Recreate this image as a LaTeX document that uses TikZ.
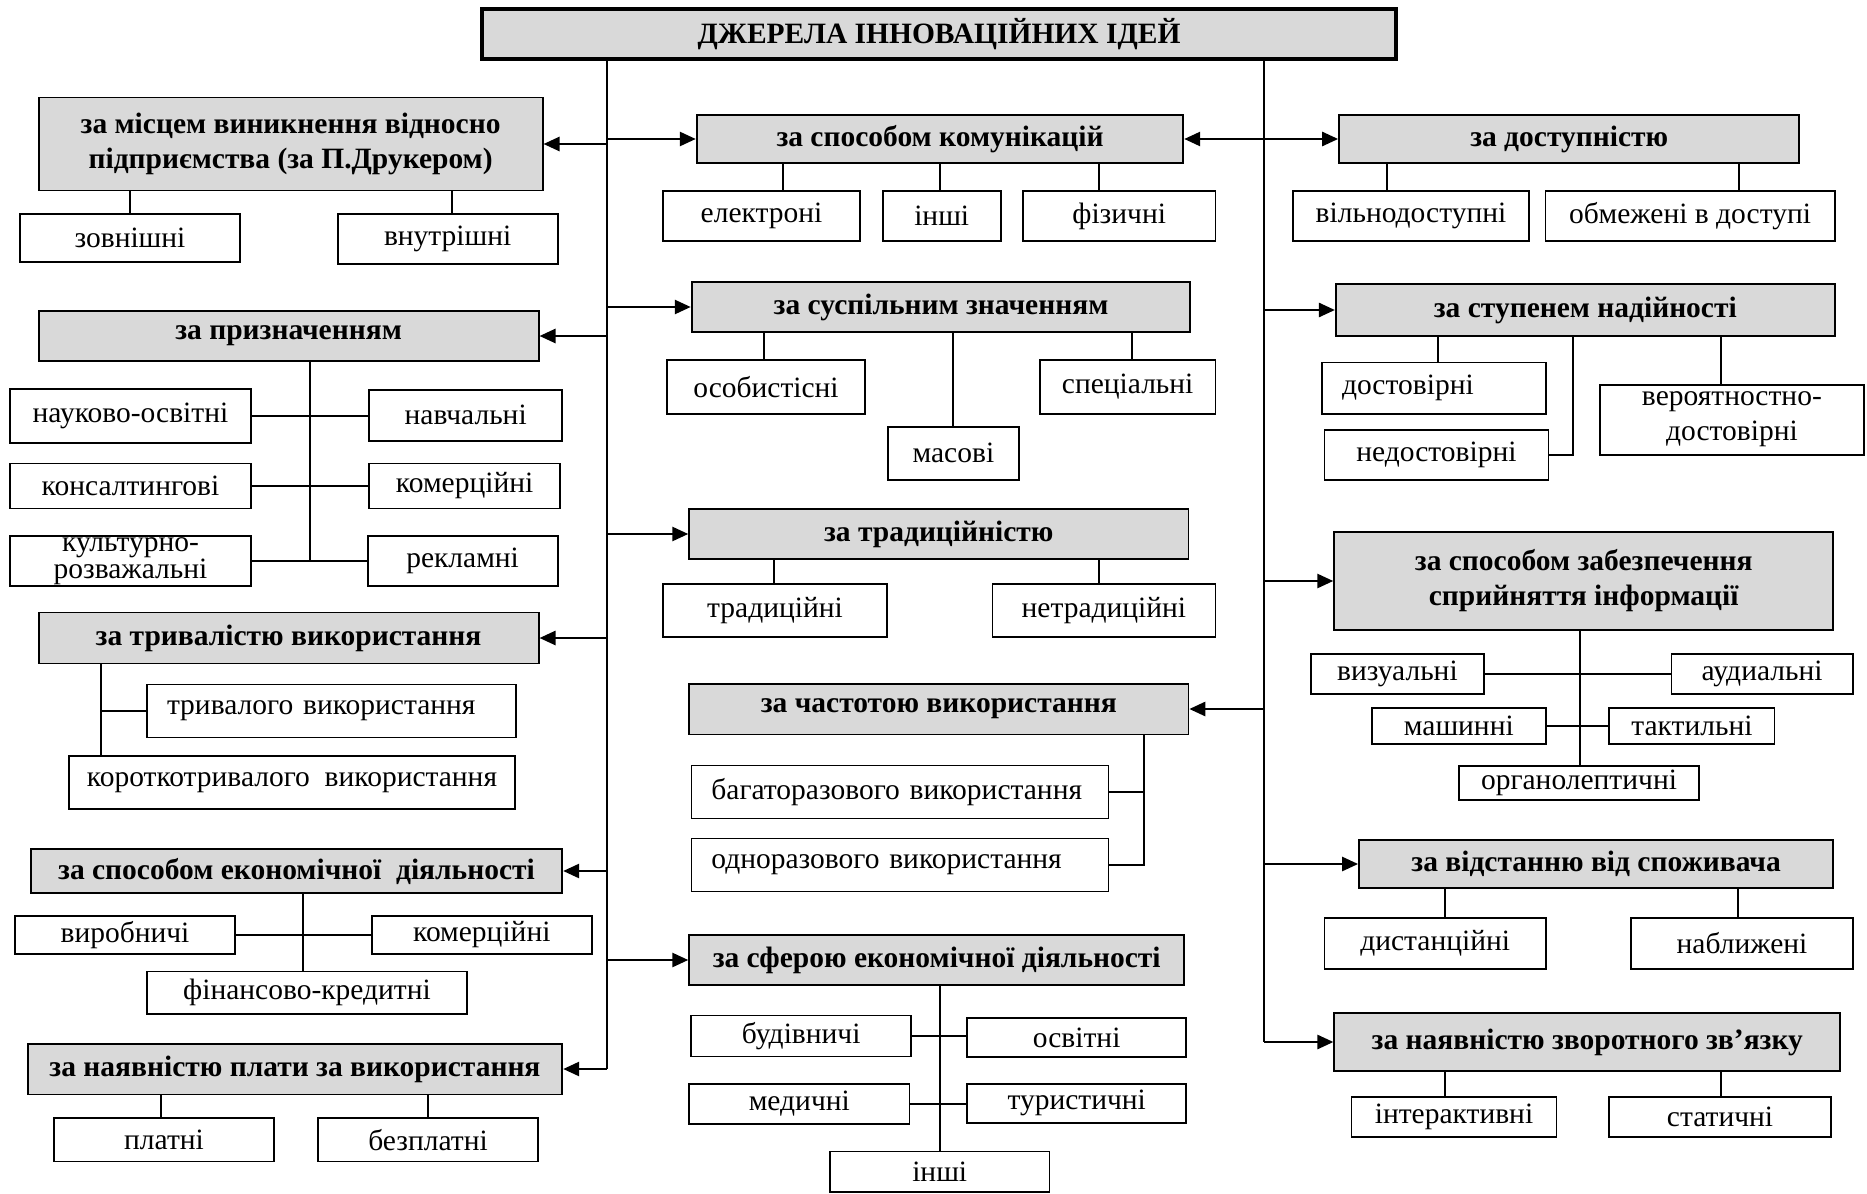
\documentclass[tikz,border=0pt]{standalone}
\usepackage{fontspec}
\setmainfont{Liberation Serif}
\usetikzlibrary{arrows.meta}
\definecolor{headgray}{HTML}{D9D9D9}
\newcommand{\stemline}[3]{\draw[link] (#2.north) ++(#3,0) coordinate (tmp) -- (tmp |- #1.south);}

\tikzset{
  basebox/.style={draw, line width=1.8pt, inner xsep=2pt, inner ysep=0pt, align=center},
  catbox/.style={basebox, fill=headgray, font=\fontsize{29.5}{35}\selectfont\bfseries},
  leafbox/.style={basebox, fill=white, font=\fontsize{29.5}{35}\selectfont},
  leftbox/.style={leafbox, align=left, inner xsep=20pt},
  toptitle/.style={draw, line width=4pt, fill=headgray, inner sep=0pt, font=\fontsize{29.5}{35}\selectfont\bfseries},
  link/.style={line width=2pt},
  trunk/.style={line width=2.8pt},
  arr/.style={line width=2.6pt, -{Triangle[length=16pt,width=14pt]}},
}

\begin{document}
\begin{tikzpicture}[x=1pt,y=-1pt]
  \useasboundingbox (0,0) rectangle (1867,1193);

  \node[toptitle,minimum width=914pt,minimum height=50pt] (title) at (939,34) {ДЖЕРЕЛА ІННОВАЦІЙНИХ ІДЕЙ};

  % left column
  \node[catbox,minimum width=504pt,minimum height=93pt] (m1) at (290.6,144) {за місцем виникнення відносно\\підприємства (за П.Друкером)};
  \node[leafbox,minimum width=220pt,minimum height=48pt] (m1a) at (130,238) {зовнішні};
  \node[leafbox,minimum width=220pt,minimum height=50pt] (m1b) at (447.7,239) {внутрішні};

  \node[catbox,minimum width=500pt,minimum height=50pt] (m2) at (288.6,336) {за призначенням};
  \node[leafbox,minimum width=241pt,minimum height=53.6pt] (m2a) at (130.5,416) {науково-освітні};
  \node[leafbox,minimum width=193pt,minimum height=51.3pt] (m2b) at (465.7,415.3) {навчальні};
  \node[leafbox,minimum width=241pt,minimum height=45pt] (m2c) at (130.5,486) {консалтингові};
  \node[leafbox,minimum width=191pt,minimum height=45pt] (m2d) at (464.6,486) {комерційні};
  \node[leafbox,minimum width=241pt,minimum height=50.5pt,font=\fontsize{29.5}{25}\selectfont] (m2e) at (130.5,561) {культурно-\\розважальні};
  \node[leafbox,minimum width=190pt,minimum height=50.5pt] (m2f) at (462.6,561) {рекламні};

  \node[catbox,minimum width=500pt,minimum height=51pt] (m3) at (288.6,638) {за тривалістю використання};
  \node[leftbox,text width=329pt,minimum height=53pt] (m3a) at (331.5,711) {тривалого використання};
  \node[leafbox,minimum width=446pt,minimum height=53pt] (m3b) at (292,782.6) {короткотривалого\ \ використання};

  \node[catbox,minimum width=531.5pt,minimum height=44pt] (m4) at (296.5,871) {за способом економічної\ \ діяльності};
  \node[leafbox,minimum width=220pt,minimum height=38.6pt] (m4a) at (125,935) {виробничі};
  \node[leafbox,minimum width=220pt,minimum height=38.6pt] (m4b) at (481.8,935) {комерційні};
  \node[leafbox,minimum width=320pt,minimum height=42.3pt] (m4c) at (307,992.6) {фінансово-кредитні};

  \node[catbox,minimum width=534.6pt,minimum height=50.8pt] (m5) at (295,1069) {за наявністю плати за використання};
  \node[leafbox,minimum width=219.5pt,minimum height=43.8pt] (m5a) at (164,1139.6) {платні};
  \node[leafbox,minimum width=219.5pt,minimum height=43.8pt] (m5b) at (428,1139.6) {безплатні};

  % middle column
  \node[catbox,minimum width=486.6pt,minimum height=48.5pt] (c1) at (940,139) {за способом комунікацій};
  \node[leafbox,minimum width=197pt,minimum height=49.7pt] (c1a) at (761.5,216.2) {електроні};
  \node[leafbox,minimum width=118pt,minimum height=49.7pt] (c1b) at (941.7,216.2) {інші};
  \node[leafbox,minimum width=192.4pt,minimum height=49.7pt] (c1c) at (1119.2,216.2) {фізичні};

  \node[catbox,minimum width=498.7pt,minimum height=50pt] (c2) at (941,307) {за суспільним значенням};
  \node[leafbox,minimum width=197.4pt,minimum height=53.7pt] (c2a) at (766,386.9) {особистісні};
  \node[leafbox,minimum width=130.8pt,minimum height=53.3pt] (c2b) at (953.4,453.3) {масові};
  \node[leafbox,minimum width=175.4pt,minimum height=53.7pt] (c2c) at (1127.7,386.9) {спеціальні};

  \node[catbox,minimum width=499.2pt,minimum height=50.5pt] (c3) at (938.8,534) {за традиційністю};
  \node[leafbox,minimum width=224pt,minimum height=53.4pt] (c3a) at (775,610.3) {традиційні};
  \node[leafbox,minimum width=223pt,minimum height=53.4pt] (c3b) at (1103.9,610.3) {нетрадиційні};

  \node[catbox,minimum width=499.2pt,minimum height=50.8pt] (c4) at (938.8,709) {за частотою використання};
  \node[leftbox,text width=377pt,minimum height=53pt] (c4a) at (899.9,792) {багаторазового використання};
  \node[leftbox,text width=377pt,minimum height=53pt] (c4b) at (899.9,865) {одноразового використання};

  \node[catbox,minimum width=495pt,minimum height=49.6pt] (c5) at (936.7,960) {за сферою економічної діяльності};
  \node[leafbox,minimum width=219.7pt,minimum height=41pt] (c5a) at (801.2,1036) {будівничі};
  \node[leafbox,minimum width=219.3pt,minimum height=39pt] (c5b) at (1076.7,1037.5) {освітні};
  \node[leafbox,minimum width=220.2pt,minimum height=40.6pt] (c5c) at (799.3,1104) {медичні};
  \node[leafbox,minimum width=219.3pt,minimum height=38.7pt] (c5d) at (1076.7,1103.4) {туристичні};
  \node[leafbox,minimum width=219.7pt,minimum height=40.5pt] (c5e) at (939.7,1171.75) {інші};

  % right column
  \node[catbox,minimum width=460.3pt,minimum height=48.5pt] (r1) at (1569.2,139) {за доступністю};
  \node[leafbox,minimum width=235.3pt,minimum height=49.7pt] (r1a) at (1411,216.2) {вільнодоступні};
  \node[leafbox,minimum width=289.2pt,minimum height=49.7pt] (r1b) at (1690.1,216.2) {обмежені в доступі};

  \node[catbox,minimum width=499pt,minimum height=51.3pt] (r2) at (1585.3,310) {за ступенем надійності};
  \node[leftbox,text width=184pt,minimum height=51.6pt] (r2a) at (1434,388.2) {достовірні};
  \node[leafbox,minimum width=224pt,minimum height=50pt] (r2b) at (1436.4,455) {недостовірні};
  \node[leafbox,minimum width=264pt,minimum height=70pt] (r2c) at (1731.9,419.6) {вероятностно-\\достовірні};

  \node[catbox,minimum width=499pt,minimum height=97.6pt] (r3) at (1583.7,581) {за способом забезпечення\\сприйняття інформації};
  \node[leafbox,minimum width=172.7pt,minimum height=40.4pt] (r3a) at (1397.4,674) {визуальні};
  \node[leafbox,minimum width=181.4pt,minimum height=40.4pt] (r3b) at (1762.1,674) {аудиальні};
  \node[leafbox,minimum width=174.3pt,minimum height=36.6pt] (r3c) at (1458.8,726) {машинні};
  \node[leafbox,minimum width=165.2pt,minimum height=36.6pt] (r3d) at (1691.9,726) {тактильні};
  \node[leafbox,minimum width=240pt,minimum height=33.8pt] (r3e) at (1579,782.7) {органолептичні};

  \node[catbox,minimum width=474.2pt,minimum height=48pt] (r4) at (1596.1,864) {за відстанню від споживача};
  \node[leafbox,minimum width=221.6pt,minimum height=51.5pt] (r4a) at (1435.2,943.5) {дистанційні};
  \node[leafbox,minimum width=221.5pt,minimum height=51.5pt] (r4b) at (1742,943.5) {наближені};

  \node[catbox,minimum width=506pt,minimum height=57.3pt] (r5) at (1587.3,1042) {за наявністю зворотного зв’язку};
  \node[leafbox,minimum width=205pt,minimum height=40.3pt] (r5a) at (1454,1117.2) {інтерактивні};
  \node[leafbox,minimum width=221.5pt,minimum height=40.3pt] (r5b) at (1720,1117.2) {статичні};

  % trunks and arrows
  \coordinate (lt) at (607,0);
  \coordinate (rt) at (1264,0);
  \draw[trunk] (title.south -| lt) -- (lt |- m5.east);
  \draw[trunk] (title.south -| rt) -- (rt |- r5.west);
  \foreach \n in {m1,m2,m3,m4,m5} \draw[arr] (lt |- \n.east) -- (\n.east);
  \foreach \n in {c1,c2,c3,c5} \draw[arr] (lt |- \n.west) -- (\n.west);
  \foreach \n in {c1,c4} \draw[arr] (rt |- \n.east) -- (\n.east);
  \foreach \n in {r1,r2,r3,r4,r5} \draw[arr] (rt |- \n.west) -- (\n.west);

  % stems
  \stemline{m1}{m1a}{0} \stemline{m1}{m1b}{4}
  \stemline{m5}{m5a}{-3} \stemline{m5}{m5b}{0}
  \stemline{c1}{c1a}{21.5} \stemline{c1}{c1b}{-1.7} \stemline{c1}{c1c}{-20}
  \stemline{c2}{c2a}{-2} \stemline{c2}{c2b}{-0.7} \stemline{c2}{c2c}{4.7}
  \stemline{c3}{c3a}{-1.2} \stemline{c3}{c3b}{-4.9}
  \stemline{r1}{r1a}{-24} \stemline{r1}{r1b}{48.6}
  \stemline{r2}{r2a}{4} \stemline{r2}{r2c}{-11.3}
  \stemline{r4}{r4a}{9.6} \stemline{r4}{r4b}{-3.7}
  \stemline{r5}{r5a}{-9} \stemline{r5}{r5b}{0.6}

  % brackets
  \coordinate (v2) at (309.6,0);
  \draw[link] (v2 |- m2.south) -- (v2 |- m2e.east);
  \draw[link] (m2a.east) -- (m2b.west |- m2a.east);
  \draw[link] (m2c.east) -- (m2d.west |- m2c.east);
  \draw[link] (m2e.east) -- (m2f.west |- m2e.east);

  \coordinate (v3) at (101,0);
  \draw[link] (v3 |- m3.south) -- (v3 |- m3b.north);
  \draw[link] (v3 |- m3a.west) -- (m3a.west);

  \coordinate (v4) at (303.3,0);
  \draw[link] (v4 |- m4.south) -- (v4 |- m4c.north);
  \draw[link] (m4a.east) -- (m4b.west |- m4a.east);

  \coordinate (v6) at (1143.8,0);
  \draw[link] (v6 |- c4.south) -- (v6 |- c4b.east) -- (c4b.east);
  \draw[link] (c4a.east) -- (v6 |- c4a.east);

  \coordinate (v7) at (940,0);
  \draw[link] (v7 |- c5.south) -- (v7 |- c5e.north);
  \draw[link] (c5a.east) -- (c5b.west |- c5a.east);
  \draw[link] (c5c.east) -- (c5d.west |- c5c.east);

  \draw[link] (r2b.east) -| ([xshift=-12.6pt]r2.south);

  \coordinate (v8) at (1579.8,0);
  \draw[link] (v8 |- r3.south) -- (v8 |- r3e.north);
  \draw[link] (r3a.east) -- (r3b.west |- r3a.east);
  \draw[link] (r3c.east) -- (r3d.west |- r3c.east);
\end{tikzpicture}
\end{document}
